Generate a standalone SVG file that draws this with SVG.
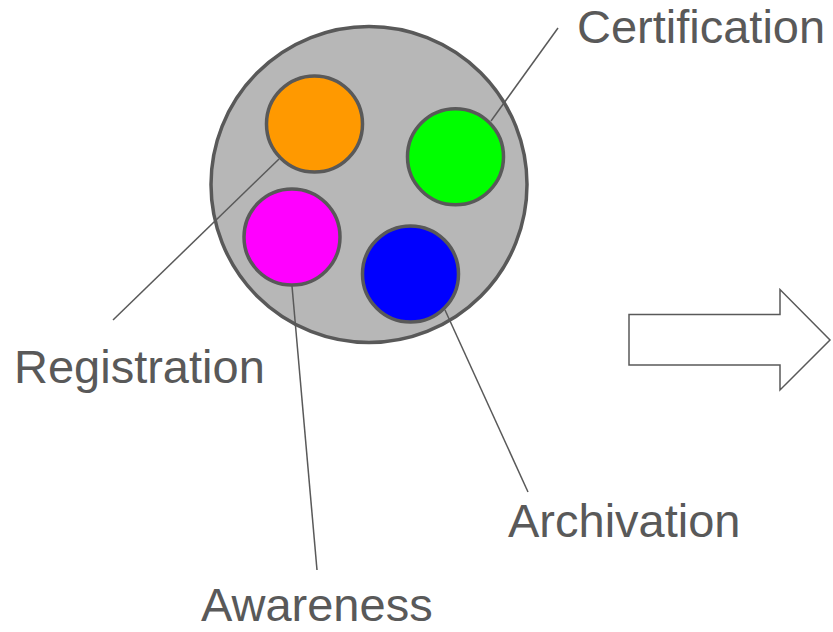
<svg xmlns="http://www.w3.org/2000/svg" width="833" height="632" viewBox="0 0 833 632">
<style>
.lbl{font-family:"Liberation Sans",Arial,sans-serif;font-size:47px;fill:#595959}
.c{stroke:#595959;stroke-width:3.5}
.ln{stroke:#595959;stroke-width:1.5;fill:none}
</style>
<rect width="833" height="632" fill="#fff"/>
<g id="container"><circle class="c" cx="369" cy="184.5" r="158" fill="#b7b7b7"/></g>
<g id="connectors">
<line class="ln" x1="558" y1="28" x2="491" y2="121"/>
<line class="ln" x1="113" y1="320" x2="279" y2="159"/>
<line class="ln" x1="292" y1="286" x2="317" y2="570"/>
<line class="ln" x1="445" y1="310" x2="528" y2="492"/>
</g>
<g id="registration"><circle class="c" cx="314.5" cy="124" r="48" fill="#ff9900"/></g>
<g id="certification"><circle class="c" cx="455.5" cy="156.7" r="48" fill="#00ff00"/></g>
<g id="awareness"><circle class="c" cx="292" cy="237" r="48" fill="#ff00ff"/></g>
<g id="archivation"><circle class="c" cx="410.5" cy="274" r="48" fill="#0000ff"/></g>
<g id="arrow"><polygon points="629,314.5 780,314.5 780,289.5 830,340 780,390 780,365 629,365" fill="#fff" stroke="#595959" stroke-width="1.5"/></g>
<g id="labels">
<text class="lbl" x="577" y="43">Certification</text>
<text class="lbl" x="14" y="383">Registration</text>
<text class="lbl" x="201" y="621">Awareness</text>
<text class="lbl" x="508" y="537">Archivation</text>
</g>
</svg>
